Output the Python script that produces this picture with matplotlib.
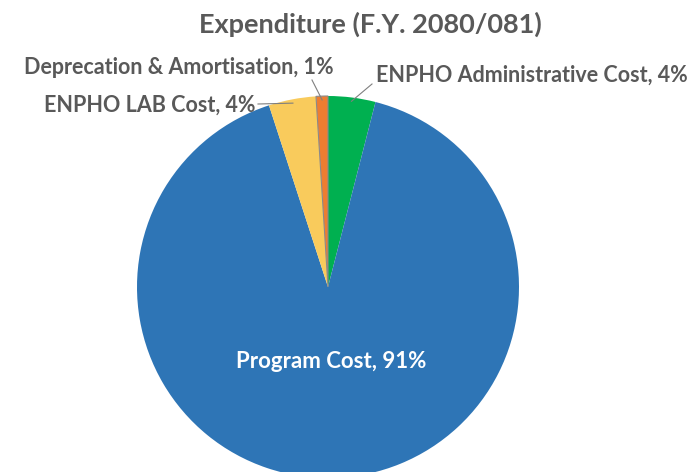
import numpy as np
import matplotlib.pyplot as plt

# expenditure shares, in drawing order (clockwise from 12 o'clock)
categories = ["ENPHO Administrative Cost", "Program Cost", "ENPHO LAB Cost",
              "Deprecation & Amortisation"]
shares = [4, 91, 4, 1]
colors = ["#00B050", "#2E75B6", "#F9CB5C", "#ED7D31"]

W, H = 692, 472
fig = plt.figure(figsize=(W / 100, H / 100), dpi=100)
ax = fig.add_axes([0, 0, 1, 1])

cx, cy, r = 328, H - 287, 191
wedges, _ = ax.pie(shares, colors=colors, startangle=90, counterclock=False,
                   center=(cx, cy), radius=r, frame=True,
                   wedgeprops=dict(linewidth=0))
wedges[3].set_edgecolor("#8a8a8a")
wedges[3].set_linewidth(0.8)
ax.set_xlim(0, W)
ax.set_ylim(0, H)
ax.set_aspect("equal")
ax.axis("off")

txt = "#595959"
font = ["Lato", "DejaVu Sans"]

ax.text(W / 2 + 24, H - 24, "Expenditure (F.Y. 2080/081)", ha="center", va="center",
        fontsize=19.5, fontweight="bold", color=txt, family=font)


def edge_point(w, frac=1.0):
    ang = np.deg2rad((w.theta1 + w.theta2) / 2)
    return cx + r * frac * np.cos(ang), cy + r * frac * np.sin(ang)


# outside labels: (wedge index, text x, text y, ha, line end x, line end y)
outside = [
    (0, 688, H - 75, "right", 372, H - 84),
    (2, 255, H - 105, "right", 258, H - 104),
    (3, 334, H - 68, "right", 312, H - 80),
]
for i, tx, ty, ha, lx, ly in outside:
    px, py = edge_point(wedges[i], 0.98)
    ax.plot([px, lx], [py, ly], color="#7f7f7f", lw=0.8)
    ax.text(tx, ty, f"{categories[i]}, {shares[i]}%", ha=ha, va="center",
            fontsize=15.5, fontweight="bold", color=txt, family=font)

ax.text(331, H - 361, f"{categories[1]}, {shares[1]}%", ha="center", va="center",
        fontsize=16, fontweight="bold", color="white", family=font)

fig.savefig("out.png", dpi=100, facecolor="white")
